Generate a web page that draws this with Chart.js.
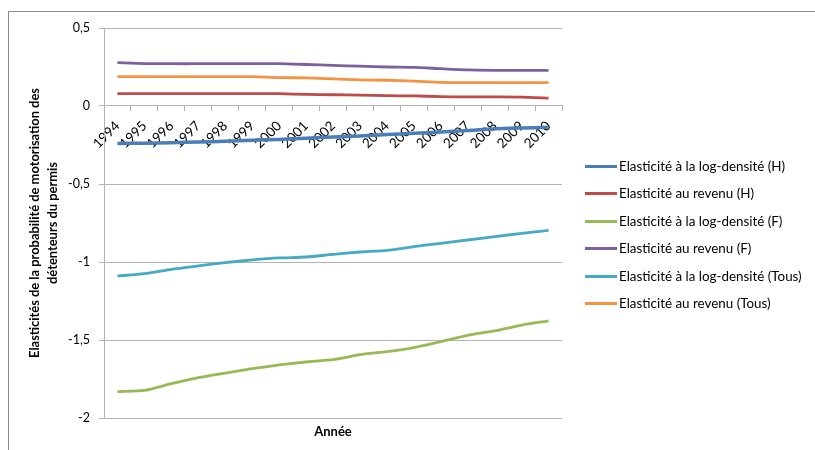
<!DOCTYPE html>
<html>
<head>
<meta charset="utf-8">
<script src="https://cdn.jsdelivr.net/npm/chart.js@4/dist/chart.umd.min.js"></script>
<style>
  html, body { margin: 0; padding: 0; background: #ffffff; }
  #wrap { width: 815px; height: 450px; position: relative; }
</style>
</head>
<body>
<div id="wrap"><canvas id="c"></canvas></div>
<script>
// ---- Data ----
const years = ['1994','1995','1996','1997','1998','1999','2000','2001','2002','2003','2004','2005','2006','2007','2008','2009','2010'];

const logDensH    = [-0.240,-0.238,-0.235,-0.231,-0.226,-0.220,-0.214,-0.206,-0.199,-0.192,-0.183,-0.175,-0.167,-0.157,-0.146,-0.141,-0.137];
const revenuH     = [0.079,0.079,0.079,0.079,0.079,0.079,0.079,0.074,0.072,0.070,0.066,0.065,0.060,0.058,0.058,0.057,0.050];
const logDensF    = [-1.831,-1.823,-1.780,-1.741,-1.712,-1.684,-1.660,-1.641,-1.626,-1.594,-1.575,-1.549,-1.511,-1.470,-1.442,-1.404,-1.378];
const revenuF     = [0.278,0.272,0.271,0.271,0.271,0.271,0.271,0.266,0.260,0.255,0.250,0.248,0.239,0.231,0.229,0.229,0.229];
const logDensTous = [-1.090,-1.075,-1.047,-1.025,-1.004,-0.987,-0.974,-0.968,-0.951,-0.936,-0.925,-0.902,-0.880,-0.859,-0.838,-0.816,-0.797];
const revenuTous  = [0.188,0.188,0.188,0.188,0.188,0.188,0.182,0.180,0.174,0.168,0.165,0.160,0.152,0.150,0.150,0.150,0.150];

const seriesNames = [
  'Elasticité à la log-densité (H)',
  'Elasticité au revenu (H)',
  'Elasticité à la log-densité (F)',
  'Elasticité au revenu (F)',
  'Elasticité à la log-densité (Tous)',
  'Elasticité au revenu (Tous)'
];
const seriesValues = [logDensH, revenuH, logDensF, revenuF, logDensTous, revenuTous];
const seriesColors = ['#4A7EBB','#BE4B48','#98B954','#7D60A0','#46AAC5','#F69240'];
const seriesWidths = [3.5, 2.8, 2.8, 2.8, 2.8, 2.8];

const yTitle = ['Elasticités de la probabilité de motorisation des', 'détenteurs du permis'];
const xTitle = 'Année';

// ---- Chart ----
const FONT = "Lato, 'Open Sans', sans-serif";
Chart.defaults.font.family = FONT;
Chart.defaults.color = '#000000';

const GRID = '#b3b3b3';

const framePlugin = {
  id: 'frame',
  beforeDraw(chart) {
    const ctx = chart.ctx;
    ctx.save();
    ctx.fillStyle = '#ffffff';
    ctx.fillRect(0, 0, chart.width, chart.height);
    ctx.strokeStyle = '#8a8a8a';
    ctx.lineWidth = 1;
    ctx.beginPath();
    ctx.moveTo(8.5, chart.height);
    ctx.lineTo(8.5, 11.5);
    ctx.lineTo(chart.width, 11.5);
    ctx.stroke();
    ctx.restore();
  }
};

// legend drawn beside the plot from the chart's own datasets
const sideLegend = {
  id: 'sideLegend',
  afterDraw(chart, args, opts) {
    const ctx = chart.ctx;
    ctx.save();
    ctx.font = opts.font;
    ctx.textBaseline = 'middle';
    ctx.textAlign = 'left';
    chart.data.datasets.forEach((ds, i) => {
      const y = Math.round(opts.top + i * opts.step) + 0.5;
      ctx.strokeStyle = ds.borderColor;
      ctx.lineWidth = 3;
      ctx.lineCap = 'butt';
      ctx.beginPath();
      ctx.moveTo(opts.x, y);
      ctx.lineTo(opts.x + opts.lineLen, y);
      ctx.stroke();
      ctx.fillStyle = '#000000';
      ctx.fillText(ds.label, opts.x + opts.lineLen + opts.gap, y);
    });
    ctx.restore();
  }
};

new Chart(document.getElementById('c'), {
  type: 'line',
  data: {
    labels: years,
    datasets: seriesNames.map((n, i) => ({
      label: n,
      data: seriesValues[i],
      borderColor: seriesColors[i],
      backgroundColor: seriesColors[i],
      borderWidth: seriesWidths[i],
      pointRadius: 0,
      pointHoverRadius: 0,
      tension: 0.2,
      fill: false
    }))
  },
  options: {
    responsive: true,
    maintainAspectRatio: false,
    animation: false,
    events: [],
    layout: { padding: { left: 10, top: 28, right: 253, bottom: 0 } },
    plugins: {
      legend: { display: false },
      tooltip: { enabled: false },
      sideLegend: { x: 585, lineLen: 32, gap: 2, top: 166, step: 27.4, font: "13.4px Lato, 'Open Sans', sans-serif" }
    },
    scales: {
      x: {
        type: 'category',
        position: { y: 0 },
        offset: true,
        grid: { display: true, offset: true, drawOnChartArea: false, drawTicks: true, tickLength: 5, color: GRID },
        border: { display: true, color: GRID, width: 1 },
        ticks: { autoSkip: false, minRotation: 45, maxRotation: 45, padding: 7, color: '#000000', font: { size: 13.5, family: FONT } }
      },
      x2: {
        type: 'category',
        position: 'bottom',
        grid: { display: false },
        border: { display: false },
        ticks: { display: false },
        title: { display: true, text: xTitle, color: '#000000', font: { size: 13, weight: 'bold', family: FONT, lineHeight: 1.2 }, padding: { top: 0, bottom: 10 } },
        afterFit(s) { s.height = 32; }
      },
      y: {
        type: 'linear',
        position: 'left',
        min: -2,
        max: 0.5,
        grid: { color: GRID, drawTicks: true, tickLength: 5 },
        border: { display: true, color: GRID, width: 1 },
        ticks: {
          stepSize: 0.5,
          padding: 9,
          color: '#000000',
          font: { size: 12.5, family: FONT },
          callback: v => String(Math.round(v * 10) / 10).replace('.', ',')
        },
        title: { display: true, text: yTitle, color: '#000000', font: { size: 12.9, weight: 'bold', family: FONT, lineHeight: 1.4 }, padding: { top: 16, bottom: 0 } },
        afterFit(s) { s.width = 94; }
      }
    }
  },
  plugins: [framePlugin, sideLegend]
});
</script>
</body>
</html>
